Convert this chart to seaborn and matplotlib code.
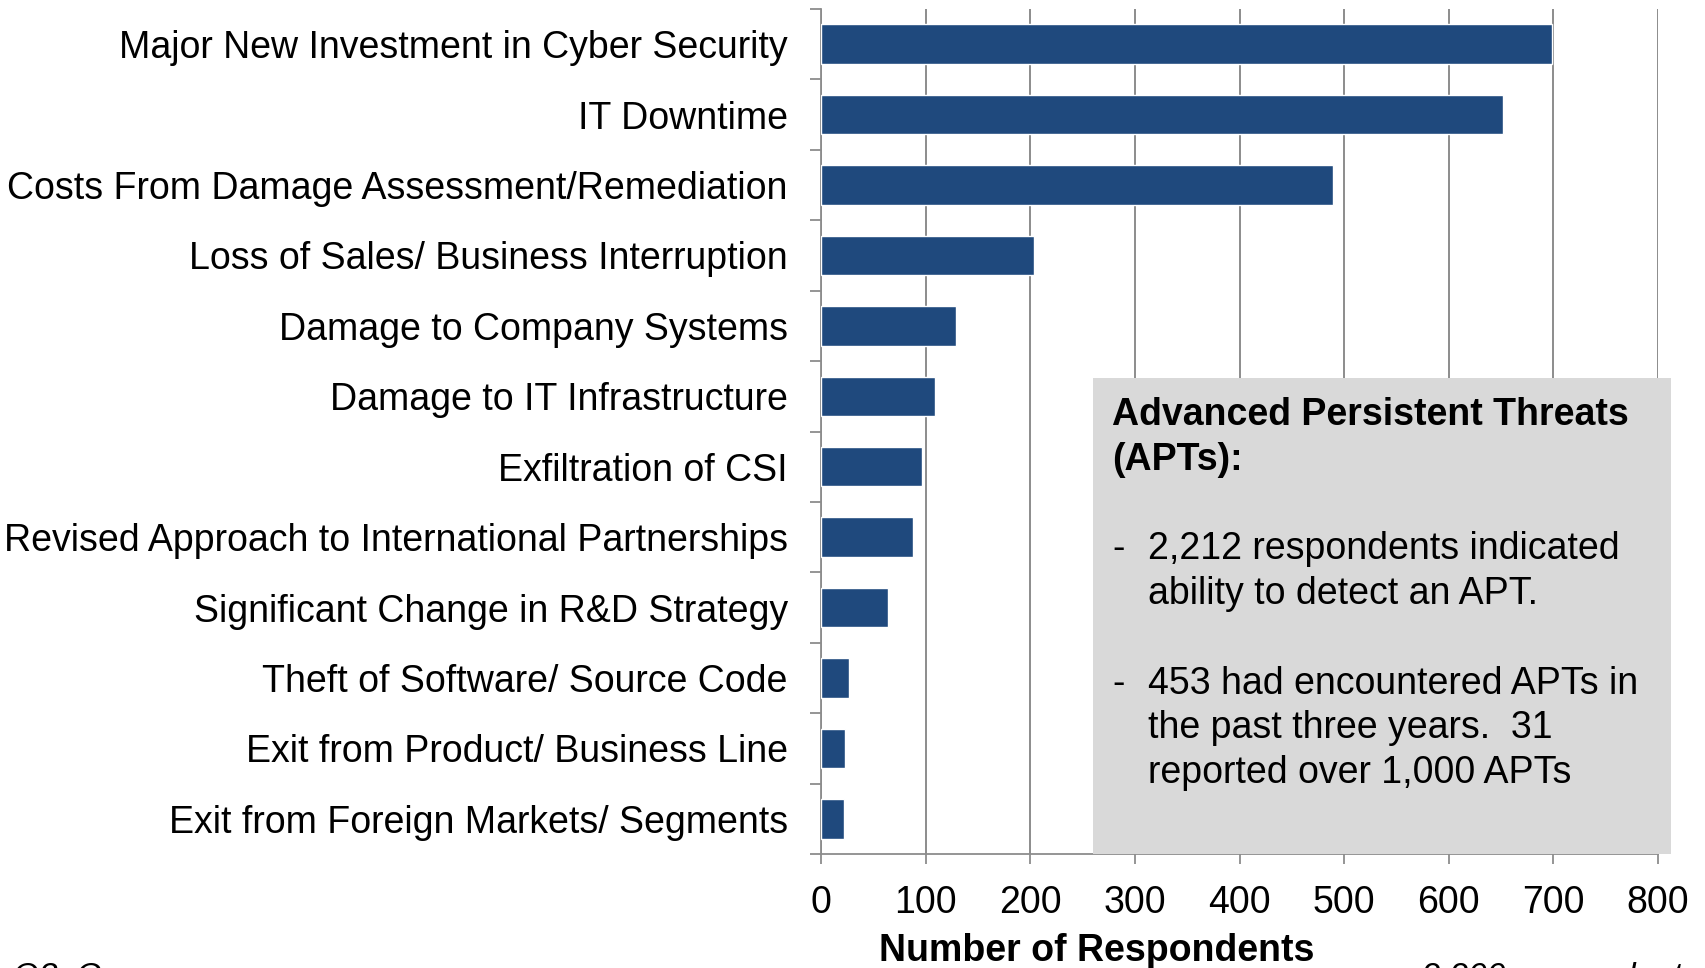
import matplotlib
matplotlib.use('Agg')
import matplotlib.pyplot as plt
from matplotlib.patches import Rectangle
from matplotlib.ticker import FixedLocator
import seaborn as sns
import pandas as pd

categories = ['Major New Investment in Cyber Security', 'IT Downtime',
              'Costs From Damage Assessment/Remediation', 'Loss of Sales/ Business Interruption',
              'Damage to Company Systems', 'Damage to IT Infrastructure', 'Exfiltration of CSI',
              'Revised Approach to International Partnerships', 'Significant Change in R&D Strategy',
              'Theft of Software/ Source Code', 'Exit from Product/ Business Line',
              'Exit from Foreign Markets/ Segments']
respondents = [699, 652, 489, 204, 129, 109, 97, 88, 64, 27, 23, 22]
x_ticks = [0, 100, 200, 300, 400, 500, 600, 700, 800]

box_title = ['Advanced Persistent Threats', '(APTs):']
box_bullet1 = ['2,212 respondents indicated', 'ability to detect an APT.']
box_bullet2 = ['453 had encountered APTs in', 'the past three years.  31', 'reported over 1,000 APTs']

sns.set_style('white')
plt.rcParams['font.family'] = ['Liberation Sans', 'DejaVu Sans']
plt.rcParams['text.color'] = 'black'
plt.rcParams['xtick.color'] = 'black'
plt.rcParams['ytick.color'] = 'black'
plt.rcParams['axes.labelcolor'] = 'black'
fs = 27
grey = '#8c8c8c'

df = pd.DataFrame({'cat': categories, 'n': respondents})

fig = plt.figure(figsize=(17.05, 9.68), dpi=100)
ax = fig.add_axes([821 / 1705, 1 - 854 / 968, (1658 - 821) / 1705, (854 - 9) / 968])

sns.barplot(data=df, x='n', y='cat', orient='h', color='#1f497d', saturation=1,
            width=0.56, ax=ax, zorder=3)

ax.set_xlim(0, 800)
ax.set_ylim(len(categories) - 0.5, -0.5)
ax.set_xticks(x_ticks)
ax.set_xticklabels([str(t) for t in x_ticks], fontsize=fs)
ax.tick_params(axis='x', direction='out', length=7, width=1.3, color=grey, pad=15, bottom=True)
ax.tick_params(axis='y', which='major', length=0, pad=24, labelsize=fs)
ax.yaxis.set_minor_locator(FixedLocator([i - 0.5 for i in range(len(categories) + 1)]))
ax.tick_params(axis='y', which='minor', direction='out', length=8, width=1.3, color=grey, left=True)
ax.xaxis.grid(True, color=grey, linewidth=1.4, zorder=0)
ax.yaxis.grid(False)
ax.set_axisbelow(True)
for s in ['top', 'right']:
    ax.spines[s].set_visible(False)
for s in ['left', 'bottom']:
    ax.spines[s].set_color(grey)
    ax.spines[s].set_linewidth(1.3)

ax.set_ylabel('')
ax.set_xlabel('Number of Respondents', fontsize=fs, fontweight='bold')
ax.xaxis.set_label_coords((1097 - 821) / 837, -(951 - 854) / 845, transform=ax.transAxes)
ax.xaxis.label.set_va('center')


def fx(px):
    return px / 1705


def fy(py):
    return 1 - py / 968


fig.add_artist(Rectangle((fx(1093), fy(854)), fx(1671 - 1093), (854 - 378) / 968,
                         transform=fig.transFigure, facecolor='#d9d9d9', edgecolor='none',
                         zorder=5))

for line, y in zip(box_title, [415, 460]):
    fig.text(fx(1112), fy(y), line, fontsize=fs, fontweight='bold', va='center', zorder=6)
for i, (line, y) in enumerate(zip(box_bullet1, [549, 594])):
    if i == 0:
        fig.text(fx(1112), fy(y), '-', fontsize=fs, va='center', zorder=6)
    fig.text(fx(1148), fy(y), line, fontsize=fs, va='center', zorder=6)
for i, (line, y) in enumerate(zip(box_bullet2, [684, 728, 773])):
    if i == 0:
        fig.text(fx(1112), fy(y), '-', fontsize=fs, va='center', zorder=6)
    fig.text(fx(1148), fy(y), line, fontsize=fs, va='center', zorder=6)

# footnotes cut off at the bottom edge
fig.text(fx(13), -0.019, 'Q3. Consequences', fontsize=24, style='italic', va='baseline')
fig.text(fx(1365), -0.019, 'n = 2,200 respondents', fontsize=24, style='italic', va='baseline')

fig.savefig('out.png', dpi=100)
